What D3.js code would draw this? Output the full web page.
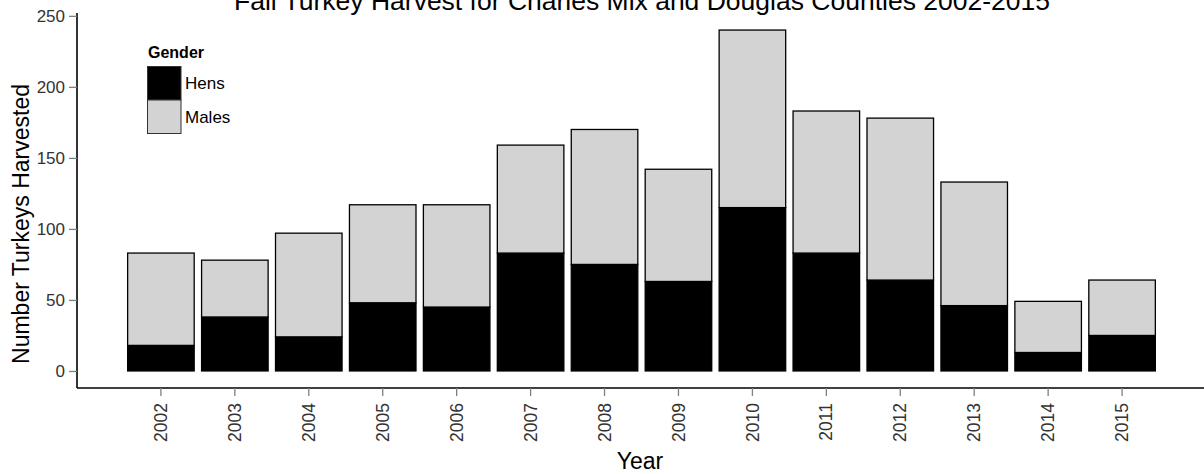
<!DOCTYPE html>
<html>
<head>
<meta charset="utf-8">
<script src="https://cdn.jsdelivr.net/npm/d3@7"></script>
<style>
  html, body { margin: 0; padding: 0; background: #fff; }
  svg { display: block; font-family: "Liberation Sans", Arial, sans-serif; }
</style>
</head>
<body>
<svg id="chart" width="1204" height="474"></svg>
<script>
const years = ["2002","2003","2004","2005","2006","2007","2008","2009","2010","2011","2012","2013","2014","2015"];
const hens  = [18, 38, 24, 48, 45, 83, 75, 63, 115, 83, 64, 46, 13, 25];
const males = [65, 40, 73, 69, 72, 76, 95, 79, 125, 100, 114, 87, 36, 39];
const yTicks = [0, 50, 100, 150, 200, 250];
const seriesNames = ["Hens", "Males"];
const seriesColors = ["#000000", "#d3d3d3"];
const titleText = "Fall Turkey Harvest for Charles Mix and Douglas Counties 2002-2015";

const svg = d3.select("#chart");
const W = 1204, H = 474;
const panel = { left: 77, right: 1206, top: 13, bottom: 388 };
const FONT = "'Liberation Sans', Arial, sans-serif";

const rows = years.map((yr, i) => ({ year: yr, Hens: hens[i], Males: males[i] }));
const stack = d3.stack().keys(seriesNames)(rows);

const x = d3.scaleBand().domain(years).range([panel.left, panel.right]).paddingInner(0).paddingOuter(0.635);
const barW = x.bandwidth() * 0.9;
const y = d3.scaleLinear().domain([-12, 252]).range([panel.bottom, panel.top]);
const color = d3.scaleOrdinal().domain(seriesNames).range(seriesColors);

// bars
const g = svg.append("g");
stack.forEach(layer => {
  g.selectAll(null).data(layer).enter().append("rect")
    .attr("x", d => x(d.data.year) + (x.bandwidth() - barW) / 2)
    .attr("y", d => y(d[1]))
    .attr("width", barW)
    .attr("height", d => y(d[0]) - y(d[1]))
    .attr("fill", color(layer.key))
    .attr("stroke", "#000")
    .attr("stroke-width", 1.3);
});

// y axis
const yAxis = svg.append("g").attr("transform", `translate(${panel.left},0)`)
  .call(d3.axisLeft(y).tickValues(yTicks).tickSize(8).tickPadding(4));
yAxis.select(".domain").attr("d", `M0,${panel.top}V${panel.bottom}`).attr("stroke", "#000").attr("stroke-width", 1.6);
yAxis.selectAll(".tick line").attr("stroke", "#7f7f7f").attr("stroke-width", 1.3);
yAxis.selectAll(".tick text").attr("fill", "#333").style("font-size", "17px").style("font-family", FONT);

// x axis
const xAxis = svg.append("g").attr("transform", `translate(0,${panel.bottom})`)
  .call(d3.axisBottom(x).tickSize(8).tickPadding(4));
xAxis.select(".domain").attr("d", `M${panel.left},0H${W}`).attr("stroke", "#000").attr("stroke-width", 1.6);
xAxis.selectAll(".tick line").attr("stroke", "#7f7f7f").attr("stroke-width", 1.3);
xAxis.selectAll(".tick text")
  .attr("fill", "#333")
  .style("font-size", "17.5px")
  .style("font-family", FONT)
  .attr("transform", "rotate(-90)")
  .attr("text-anchor", "end")
  .attr("x", -15)
  .attr("y", 0)
  .attr("dy", "0.35em");

// titles
svg.append("text").attr("x", 642).attr("y", 10).attr("text-anchor", "middle")
  .style("font-size", "26.5px").attr("fill", "#000").text(titleText);
svg.append("text").attr("x", 640).attr("y", 469).attr("text-anchor", "middle")
  .style("font-size", "23px").attr("fill", "#000").text("Year");
svg.append("text").attr("transform", "translate(29,224) rotate(-90)").attr("text-anchor", "middle")
  .style("font-size", "23px").attr("fill", "#000").text("Number Turkeys Harvested");

// legend
const leg = svg.append("g").attr("transform", "translate(147,44)");
leg.append("text").attr("x", 1).attr("y", 14).style("font-size", "16px").style("font-weight", "bold").text("Gender");
seriesNames.forEach((s, i) => {
  leg.append("rect").attr("x", 0.5).attr("y", 22.5 + i * 33.5).attr("width", 33.5).attr("height", 33.5)
    .attr("fill", color(s)).attr("stroke", "#333").attr("stroke-width", 1);
  leg.append("text").attr("x", 38).attr("y", 39.5 + i * 33.5).attr("dy", "0.35em")
    .style("font-size", "17px").text(s);
});
</script>
</body>
</html>
